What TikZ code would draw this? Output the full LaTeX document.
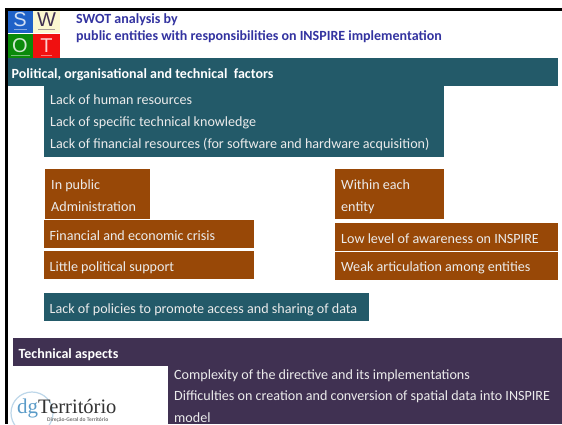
\documentclass[tikz,border=0pt]{standalone}
\usepackage{fontspec}
\setmainfont{Carlito}
\setsansfont{Liberation Sans}
\newfontfamily\logofont{Liberation Serif}
\definecolor{tealbox}{HTML}{235A69}
\definecolor{brownbox}{HTML}{984807}
\definecolor{plumbox}{HTML}{403152}
\definecolor{titleblue}{HTML}{3333A0}
\definecolor{cream}{HTML}{FBF8D0}
\definecolor{swotblue}{HTML}{1F62C8}
\definecolor{swotgreen}{HTML}{0A8A0A}
\definecolor{swotred}{HTML}{F01010}
\definecolor{logoblue}{HTML}{5A9BC8}
\tikzset{
  x=1pt,y=-1pt,
  lab/.style={text=white!92!black,font=\fontsize{14.1}{15}\selectfont,anchor=base west,inner sep=0pt},
  blab/.style={text=white,font=\fontsize{14}{15}\selectfont\bfseries,anchor=base west,inner sep=0pt},
  ttl/.style={text=titleblue,font=\fontsize{14}{15}\selectfont\bfseries,anchor=base west,inner sep=0pt},
  tile/.style={font=\sffamily\fontsize{20}{20}\selectfont,inner sep=0pt,anchor=center},
  caption stub/.style={line width=0.8pt,opacity=0.45},
}
\begin{document}
\begin{tikzpicture}
\useasboundingbox (0,0) rectangle (562,424);
\fill[white] (0,0) rectangle (562,424);
% slide frame
\fill[black] (5,8) rectangle (562,11);
\fill[black] (5,8) rectangle (8,424);
% SWOT icon
\fill[swotblue] (8,11) rectangle (33,33);
\fill[cream] (33,11) rectangle (60,33);
\fill[swotgreen] (8,34) rectangle (33,58);
\fill[swotred] (33,34) rectangle (60,58);
\node[tile,text=white!80!swotblue] (s) at (20,20) {S};
\node[tile,text=plumbox] (w) at (46.5,20) {W};
\node[tile,text=white!80!swotgreen] (o) at (20,46) {O};
\node[tile,text=white!80!swotred] (t) at (46.5,46) {T};
\draw[caption stub,white] (14,29.5) -- (27,29.5);
\draw[caption stub,plumbox] (38,29.5) -- (55,29.5);
\draw[caption stub,white] (11,55.5) -- (30,55.5);
\draw[caption stub,white] (41,55.5) -- (52,55.5);
% title
\node[ttl] (title1) at (76,23) {SWOT analysis by};
\node[ttl] (title2) at (76,40.5) {public entities with responsibilities on INSPIRE implementation};
% teal blocks
\fill[tealbox] (8,58) rectangle (558,86);
\fill[tealbox] (44,86) rectangle (444,157);
\node[blab] (head1) at (11.5,78) {Political, organisational and technical\ \ factors};
\node[lab] (a1) at (50,104) {Lack of human resources};
\node[lab] (a2) at (50,126) {Lack of specific technical knowledge};
\node[lab] (a3) at (50,148) {Lack of financial resources (for software and hardware acquisition)};
% brown blocks
\fill[brownbox] (45,169) rectangle (150,219);
\node[lab] (b1) at (51,189) {In public};
\node[lab] (b2) at (51,211) {Administration};
\fill[brownbox] (44,220) rectangle (254,248);
\node[lab] (b3) at (49.5,240) {Financial and economic crisis};
\fill[brownbox] (44,251) rectangle (254,279);
\node[lab] (b4) at (49.5,271) {Little political support};
\fill[brownbox] (335,169) rectangle (444,219);
\node[lab] (c1) at (341,189) {Within each};
\node[lab] (c2) at (341,211) {entity};
\fill[brownbox] (335,223) rectangle (558,251);
\node[lab] (c3) at (341,243) {Low level of awareness on INSPIRE};
\fill[brownbox] (335,252) rectangle (558,280);
\node[lab] (c4) at (341,271) {Weak articulation among entities};
% policies
\fill[tealbox] (44,293) rectangle (369,321);
\node[lab] (d1) at (49.5,313) {Lack of policies to promote access and sharing of data};
% technical aspects
\fill[plumbox] (13,338) rectangle (562,366);
\fill[plumbox] (168,366) rectangle (562,424);
\node[blab] (head2) at (18.5,358) {Technical aspects};
\node[lab] (e1) at (174,379) {Complexity of the directive and its implementations};
\node[lab] (e2) at (174,400) {Difficulties on creation and conversion of spatial data into INSPIRE};
\node[lab] (e3) at (174,422) {model};
% logo
\draw[logoblue!40,line width=1.2pt] (32,413) circle (21);
\node[font=\logofont\fontsize{21}{21}\selectfont,inner sep=0pt,anchor=base west,text=logoblue] (logodg) at (17,413) {dg};
\node[font=\logofont\fontsize{20.5}{21}\selectfont,inner sep=0pt,anchor=base west,text=black!80] (logo) at (38,413) {Território};
\node[font=\fontsize{5.5}{6}\selectfont\bfseries,text=black!55,inner sep=0pt,anchor=base west] (logosub) at (47,421.5) {Direção-Geral do Território};
\end{tikzpicture}
\end{document}
